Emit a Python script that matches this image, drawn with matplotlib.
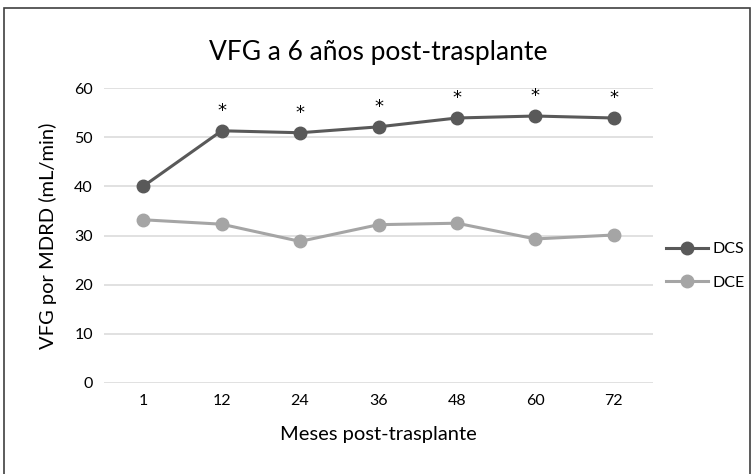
import matplotlib
matplotlib.use("Agg")
import matplotlib.pyplot as plt
from matplotlib.patches import Rectangle

plt.rcParams["font.family"] = ["Lato", "DejaVu Sans"]

# ── Data ──────────────────────────────────────────────────────────────────────
meses = ["1", "12", "24", "36", "48", "60", "72"]
dcs = [40.0, 51.3, 50.9, 52.1, 53.9, 54.3, 53.9]
dce = [33.2, 32.3, 28.8, 32.2, 32.5, 29.3, 30.1]
signif = [False, True, True, True, True, True, True]

# ── Figure ────────────────────────────────────────────────────────────────────
fig = plt.figure(figsize=(7.52, 4.74), dpi=100)
ax = fig.add_axes([104 / 752, 1 - 383 / 474, (653 - 104) / 752, (383 - 88) / 474])

x = range(len(meses))
ax.plot(x, dcs, color="#595959", lw=2.2, marker="o", ms=9, label="DCS", clip_on=False, zorder=3)
ax.plot(x, dce, color="#A5A5A5", lw=2.2, marker="o", ms=9, label="DCE", clip_on=False, zorder=3)

for i, (v, s) in enumerate(zip(dcs, signif)):
    if s:
        ax.annotate("*", (i, v), xytext=(0, 8), textcoords="offset points",
                    ha="center", va="bottom", fontsize=13, color="black",
                    family="DejaVu Sans")

ax.set_xlim(-0.5, len(meses) - 0.5)
ax.set_ylim(0, 60)
ax.set_yticks(range(0, 61, 10))
ax.set_xticks(list(x))
ax.set_xticklabels(meses)
ax.tick_params(length=0, labelsize=11.5, colors="#000000", pad=8)
ax.grid(axis="y", color="#D9D9D9", lw=1.1)
ax.set_axisbelow(True)
for sp in ax.spines.values():
    sp.set_visible(False)

ax.set_title("VFG a 6 años post-trasplante", fontsize=19, pad=20)
ax.set_xlabel("Meses post-trasplante", fontsize=14.5, labelpad=13)
ax.set_ylabel("VFG por MDRD (mL/min)", fontsize=14.5, labelpad=12)

fig.legend(loc="center left", bbox_to_anchor=(652 / 752, 1 - 266 / 474), frameon=False,
           fontsize=11.5, handlelength=2.6, labelspacing=1.2, handletextpad=0.3)

# outer frame
fig.patches.append(Rectangle((4 / 752, -0.05), 746 / 752, 1.05 - 8 / 474,
                             transform=fig.transFigure, fill=False,
                             edgecolor="#404040", lw=1.2))

fig.savefig("out.png", dpi=100)
